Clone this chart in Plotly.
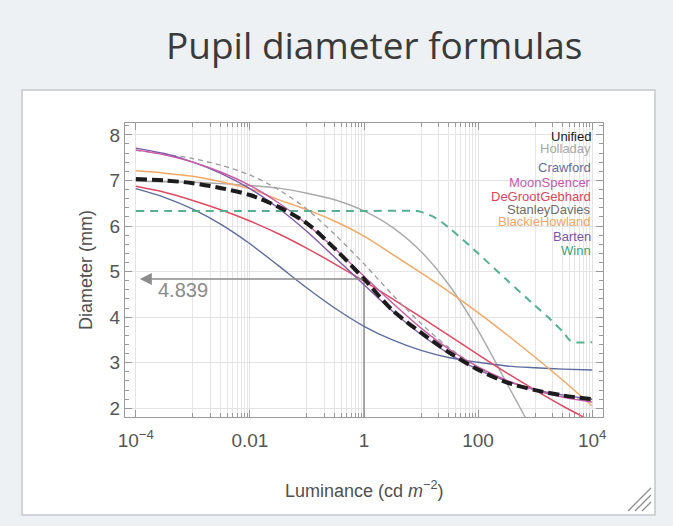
import plotly.graph_objects as go

# ---------------- data ----------------
luminance = [1e-4, 3.16e-4, 1e-3, 3.16e-3, 1e-2, 3.16e-2, 0.1, 0.316, 1,
             3.16, 10, 31.6, 100, 316, 1000, 3160, 1e4]

unified        = [7.03, 7.00, 6.94, 6.83, 6.68, 6.42, 6.06, 5.49, 4.84, 4.15, 3.66, 3.22, 2.85, 2.57, 2.40, 2.28, 2.20]
crawford       = [6.82, 6.63, 6.37, 6.03, 5.61, 5.13, 4.64, 4.19, 3.80, 3.50, 3.27, 3.11, 3.01, 2.93, 2.89, 2.86, 2.84]
moon_spencer   = [7.67, 7.56, 7.40, 7.18, 6.89, 6.51, 6.04, 5.49, 4.90, 4.31, 3.76, 3.29, 2.91, 2.62, 2.40, 2.24, 2.14]
de_groot       = [6.87, 6.74, 6.56, 6.35, 6.11, 5.83, 5.51, 5.16, 4.79, 4.40, 4.00, 3.59, 3.18, 2.78, 2.40, 2.04, 1.71]
stanley_davies = [7.66, 7.58, 7.48, 7.33, 7.12, 6.80, 6.37, 5.80, 5.17, 4.49, 3.86, 3.32, 2.90, 2.60, 2.39, 2.25, 2.16]
blackie        = [7.21, 7.16, 7.09, 6.97, 6.82, 6.58, 6.36, 6.10, 5.78, 5.38, 4.97, 4.55, 4.10, 3.62, 3.12, 2.60, 2.05]
barten         = [7.71, 7.59, 7.40, 7.15, 6.82, 6.39, 5.88, 5.30, 4.71, 4.13, 3.62, 3.19, 2.85, 2.60, 2.41, 2.29, 2.20]

holladay_lum = [1e-4, 3.16e-4, 1e-3, 3.16e-3, 1e-2, 3.16e-2, 0.1, 0.316, 1, 3.16, 10, 31.6, 100, 316, 800]
holladay     = [6.98, 6.97, 6.96, 6.93, 6.89, 6.83, 6.72, 6.57, 6.33, 5.97, 5.44, 4.69, 3.71, 2.56, 1.63]

winn_lum = [1e-4, 1e-3, 1e-2, 0.1, 1, 7.9, 10, 17.8, 31.6, 100, 316, 1000, 1780, 3160, 4000, 5000, 1e4]
winn     = [6.33, 6.33, 6.33, 6.33, 6.33, 6.33, 6.31, 6.18, 5.95, 5.40, 4.82, 4.25, 3.97, 3.66, 3.50, 3.45, 3.45]

marker_lum = 1
marker_value = 4.839

x_tick_vals = [1e-4, 1e-2, 1, 100, 1e4]
x_tick_text = ["10<sup>\u22124</sup>", "0.01", "1", "100", "10<sup>4</sup>"]
y_tick_vals = [2, 3, 4, 5, 6, 7, 8]
x_grid_vals = [k * 10.0 ** n for n in (-3, -1, 1, 3) for k in range(1, 11)]

series = [
    ("Holladay", holladay_lum, holladay, "#a9a9a9", 1.4, "solid"),
    ("Crawford", luminance, crawford, "#5d6c9e", 1.4, "solid"),
    ("DeGrootGebhard", luminance, de_groot, "#df4a62", 1.5, "solid"),
    ("BlackieHowland", luminance, blackie, "#f2a865", 1.5, "solid"),
    ("StanleyDavies", luminance, stanley_davies, "#9a9a9a", 1.3, "5px,4px"),
    ("Barten", luminance, barten, "#7f5aa8", 1.4, "solid"),
    ("MoonSpencer", luminance, moon_spencer, "#cc5aa8", 1.4, "solid"),
    ("Winn", winn_lum, winn, "#55b08e", 2.0, "8px,6px"),
    ("Unified", luminance, unified, "#1c1c1c", 4.0, "11px,5px"),
]

legend_items = [
    ("Unified", "#1a1a1a", 136.0),
    ("Holladay", "#a8a8a8", 148.5),
    ("Crawford", "#5f6f9f", 167.7),
    ("MoonSpencer", "#c35aae", 182.3),
    ("DeGrootGebhard", "#d9475c", 196.5),
    ("StanleyDavies", "#6e6e66", 209.0),
    ("BlackieHowland", "#efa463", 221.5),
    ("Barten", "#7a56a6", 236.7),
    ("Winn", "#3f9f78", 250.7),
]

fig = go.Figure()

# vertical marker line at L = 1
fig.add_trace(go.Scatter(x=[marker_lum, marker_lum], y=[1.81, marker_value], mode="lines",
                         line=dict(color="#8c8c8c", width=1.5), hoverinfo="skip", showlegend=False))

for name, xs, ys, col, w, dash in series:
    fig.add_trace(go.Scatter(x=xs, y=ys, mode="lines", name=name,
                             line=dict(color=col, width=w, dash=dash, shape="spline", smoothing=0.8),
                             showlegend=False))

# plot area in pixels
L, R, T, B = 125, 603, 123, 417
W, H = 673, 526


def px(x):
    return (x - L) / (R - L)


def py(y):
    return (B - y) / (B - T)


annotations = []
for name, col, ypix in legend_items:
    annotations.append(dict(x=px(593), y=py(ypix), xref="paper", yref="paper", text=name,
                            showarrow=False, xanchor="right", yanchor="middle",
                            font=dict(family="Liberation Sans, Arial", size=13, color=col)))

# arrow to axis
annotations.append(dict(x=-3.93, y=marker_value, xref="x", yref="y", ax=0, ay=marker_value,
                        axref="x", ayref="y", text="", showarrow=True, arrowhead=2,
                        arrowsize=1.5, arrowwidth=1.6, arrowcolor="#8c8c8c"))
annotations.append(dict(x=px(156), y=py(290), xref="paper", yref="paper", text=f"{marker_value:.3f}",
                        showarrow=False, xanchor="left", yanchor="middle",
                        font=dict(family="Liberation Sans, Arial", size=20, color="#8a8a8a")))
# title
annotations.append(dict(x=px(374), y=py(45), xref="paper", yref="paper", text="Pupil diameter formulas",
                        showarrow=False, xanchor="center", yanchor="middle",
                        font=dict(family="Open Sans", size=37, color="#3a3a3a")))
# axis titles
annotations.append(dict(x=px(86), y=py(270), xref="paper", yref="paper", text="Diameter (mm)",
                        showarrow=False, textangle=-90, xanchor="center", yanchor="middle",
                        font=dict(family="Liberation Sans, Arial", size=18, color="#505050")))
annotations.append(dict(x=px(364), y=py(489), xref="paper", yref="paper",
                        text="Luminance (cd <i>m</i><sup>\u22122</sup>)",
                        showarrow=False, xanchor="center", yanchor="middle",
                        font=dict(family="Liberation Sans, Arial", size=18, color="#505050")))

shapes = [
    dict(type="rect", xref="paper", yref="paper", x0=px(22), x1=px(655), y0=py(515), y1=py(90),
         fillcolor="white", line=dict(color="#c4c8cc", width=1.5), layer="below"),
]
# resize grip
for off in (0, 7, 14):
    shapes.append(dict(type="line", xref="paper", yref="paper",
                       x0=px(628 + off), y0=py(511), x1=px(651), y1=py(488 + off),
                       line=dict(color="#8e8e8e", width=1.3)))

fig.update_layout(
    width=W, height=H,
    margin=dict(l=L, r=W - R, t=T, b=H - B),
    paper_bgcolor="#eef1f4",
    plot_bgcolor="white",
    annotations=annotations,
    shapes=shapes,
    font=dict(family="Liberation Sans, Arial", color="#555555"),
)
fig.update_xaxes(
    type="log", range=[-4.19, 4.19],
    tickmode="array", tickvals=x_tick_vals, ticktext=x_tick_text,
    ticks="inside", ticklen=7, tickcolor="#999999", tickwidth=1,
    showline=True, linecolor="#9a9a9a", linewidth=1.2, mirror="allticks",
    showgrid=True, gridcolor="#e4e4e4", gridwidth=1,
    tickfont=dict(size=19, color="#555555"), ticklabelstandoff=6,
    minor=dict(tickmode="array", tickvals=x_grid_vals, ticks="inside", ticklen=4,
               tickcolor="#999999", showgrid=True, gridcolor="#e6e6e6", gridwidth=1),
    zeroline=False,
)
fig.update_yaxes(
    range=[1.81, 8.26],
    tickmode="array", tickvals=y_tick_vals,
    ticks="inside", ticklen=7, tickcolor="#999999", tickwidth=1,
    showline=True, linecolor="#9a9a9a", linewidth=1.2, mirror="allticks",
    showgrid=True, gridcolor="#e4e4e4", gridwidth=1,
    tickfont=dict(size=19, color="#555555"),
    minor=dict(dtick=0.2, ticks="inside", ticklen=4, tickcolor="#999999", showgrid=False),
    zeroline=False,
)

fig.write_html("out.html", config={"displayModeBar": False},
               post_script="document.body.style.margin='0';document.body.style.overflow='hidden';")
